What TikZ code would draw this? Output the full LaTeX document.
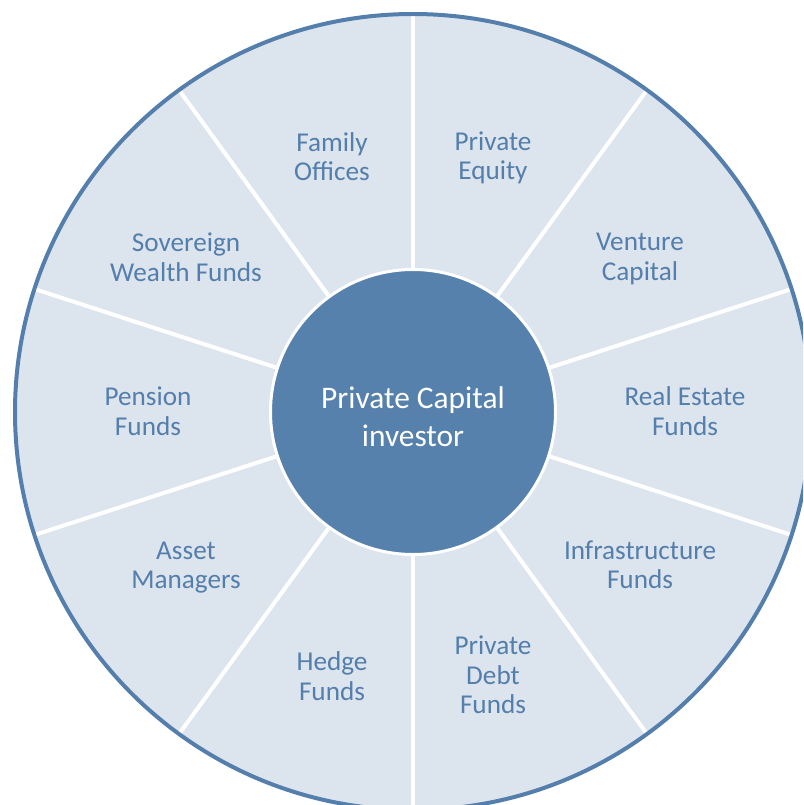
\documentclass[tikz,border=0pt]{standalone}
\usepackage{fontspec}
\setmainfont{Carlito}
\definecolor{fillc}{RGB}{220,228,238}
\definecolor{rimc}{RGB}{84,126,171}
\definecolor{hubc}{RGB}{86,129,172}
\definecolor{txtc}{RGB}{84,126,171}
\begin{document}
\begin{tikzpicture}[x=1pt,y=-1pt,
  lab/.style={text=txtc, font=\fontsize{27.2}{29.5}\selectfont, align=center, inner sep=0pt},
  divider/.style={white, line width=4pt},
  rim/.style={rimc, line width=4pt}]
\useasboundingbox (0,0) rectangle (803,805);
\coordinate (O) at (413,412);
\begin{scope}
\clip (0,0) rectangle (803,805);
\fill[fillc] (O) circle (398pt);
\foreach \a in {90,54,18,-18,-54,-90,-126,-162,162,126}
  \draw[divider] (O) -- ++(\a:398);
\draw[rim] (O) circle (398pt);
\end{scope}
\node[circle, fill=hubc, draw=white, line width=3pt, minimum size=285pt, inner sep=0pt] (hub) at (O) {};
\node[text=white, font=\fontsize{31.4}{38}\selectfont, align=center, inner sep=0pt] (hubtxt) at (413,417) {Private Capital\\investor};
\node[lab] (fo) at (332,156.5) {Family\\Offices};
\node[lab] (pe) at (493,158) {Private\\Equity};
\node[lab] (vc) at (640,259) {Venture\\Capital};
\node[lab] (re) at (685,411) {Real Estate\\Funds};
\node[lab] (inf) at (640,565) {Infrastructure\\Funds};
\node[lab] (pd) at (493,675) {Private\\Debt\\Funds};
\node[lab] (hf) at (332,676) {Hedge\\Funds};
\node[lab] (am) at (186,567.5) {Asset\\Managers};
\node[lab] (pf) at (148,411) {Pension\\Funds};
\node[lab] (sw) at (186,257) {Sovereign\\Wealth Funds};
\end{tikzpicture}
\end{document}
